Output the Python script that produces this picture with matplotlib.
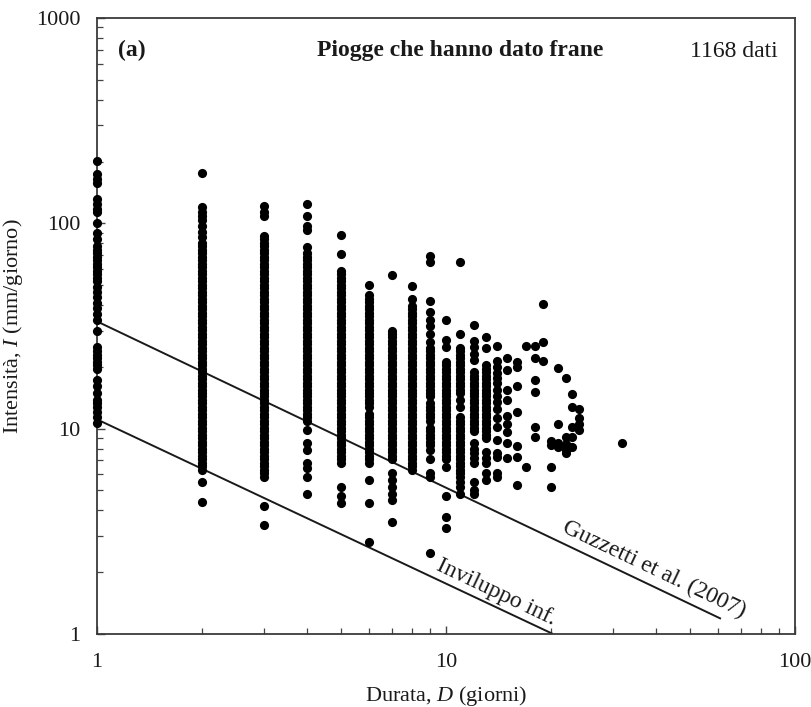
import matplotlib
matplotlib.use("Agg")
import matplotlib.pyplot as plt
from matplotlib.ticker import FixedLocator, FixedFormatter, LogLocator, NullFormatter

plt.rcParams["font.family"] = ["Liberation Serif", "DejaVu Serif"]
plt.rcParams["mathtext.fontset"] = "custom"
plt.rcParams["mathtext.rm"] = "Liberation Serif"
plt.rcParams["mathtext.it"] = "Liberation Serif:italic"

# Rainfall events that triggered landslides: duration (days) -> intensities (mm/day)
durations = [1, 2, 3, 4, 5, 6, 7, 8, 9, 10, 11, 12, 13, 14, 15, 16, 17, 18,
             19, 20, 21, 22, 23, 24, 32]

i_d1 = [201, 173, 165, 158, 131, 124, 117, 113, 100, 90, 84, 77.2, 74.3, 71.4,
        68.7, 66, 63.5, 61, 58.7, 56.5, 54.3, 52.2, 49, 46.4, 44, 41, 38.5, 36,
        34, 30, 25, 23.8, 22.9, 22, 21.2, 20.4, 19.6, 17.3, 16.2, 15, 13.8, 13.3,
        12.8, 12.1, 11.4, 10.7]
i_d2 = [175, 120, 114, 109, 104, 97, 91, 86, 80.3, 77.2, 74.3, 71.4, 68.7, 66,
        63.5, 61, 58.7, 56.5, 54.3, 52.2, 50.2, 48.3, 46.4, 44.6, 42.9, 41.3,
        39.7, 38.2, 36.7, 35.3, 33.9, 32.6, 31.4, 30.2, 29, 27.9, 26.8, 25.8,
        24.8, 23.8, 22.9, 22, 21.2, 20.4, 19.6, 18.8, 18.1, 17.4, 16.75, 16.1,
        15.5, 14.9, 14.35, 13.8, 13.3, 12.8, 12.3, 11.8, 11.35, 10.9, 10.5, 10.1,
        9.7, 9.35, 9.0, 8.65, 8.3, 8.0, 7.7, 7.4, 7.1, 6.8, 6.55, 6.3, 5.5, 4.4]
i_d3 = [121, 114, 108, 86.9, 83.5, 80.3, 77.2, 74.3, 71.4, 68.7, 66, 63.5, 61,
        58.7, 56.5, 54.3, 52.2, 50.2, 48.3, 46.4, 44.6, 42.9, 41.3, 39.7, 38.2,
        36.7, 35.3, 33.9, 32.6, 31.4, 30.2, 29, 27.9, 26.8, 25.8, 24.8, 23.8,
        22.9, 22, 21.2, 20.4, 19.6, 18.8, 18.1, 17.4, 16.75, 16.1, 15.5, 14.9,
        14.35, 13.8, 13.3, 12.8, 12.3, 11.8, 11.35, 10.9, 10.5, 10.1, 9.7, 9.35,
        9.0, 8.65, 8.3, 8.0, 7.7, 7.4, 7.1, 6.8, 6.55, 6.3, 6.05, 5.8, 4.2, 3.4]
i_d4 = [124, 109, 97, 93, 77, 71.4, 68.7, 66, 63.5, 61, 58.7, 56.5, 54.3, 52.2,
        50.2, 48.3, 46.4, 44.6, 42.9, 41.3, 39.7, 38.2, 36.7, 35.3, 33.9, 32.6,
        31.4, 30.2, 29, 27.9, 26.8, 25.8, 24.8, 23.8, 22.9, 22, 21.2, 20.4, 19.6,
        18.8, 18.1, 17.4, 16.75, 16.1, 15.5, 14.9, 14.35, 13.8, 13.3, 12.8, 12.3,
        11.8, 11.35, 10.9, 9.9, 8.5, 7.9, 6.8, 6.4, 5.8, 4.8]
i_d5 = [88, 70.6, 58.7, 56.5, 54.3, 52.2, 50.2, 48.3, 46.4, 44.6, 42.9, 41.3,
        39.7, 38.2, 36.7, 35.3, 33.9, 32.6, 31.4, 30.2, 29, 27.9, 26.8, 25.8,
        24.8, 23.8, 22.9, 22, 21.2, 20.4, 19.6, 18.8, 18.1, 17.4, 16.75, 16.1,
        15.5, 14.9, 14.35, 13.8, 13.3, 12.8, 12.3, 11.8, 11.35, 10.9, 10.5, 10.1,
        9.7, 9.35, 9.0, 8.65, 8.3, 8.0, 7.7, 7.4, 7.1, 6.8, 5.2, 4.7, 4.35]
i_d6 = [50, 44.6, 42.9, 41.3, 39.7, 38.2, 36.7, 35.3, 33.9, 32.6, 31.4, 30.2, 29,
        27.9, 26.8, 25.8, 24.8, 23.8, 22.9, 22, 21.2, 20.4, 19.6, 18.8, 18.1,
        17.4, 16.75, 16.1, 15.5, 14.9, 14.35, 13.8, 13.3, 12.8, 11.8, 11.35,
        10.9, 10.5, 10.1, 9.7, 9.35, 9.0, 8.65, 8.3, 8.0, 7.7, 7.4, 7.1, 6.8,
        5.6, 4.35, 2.8]
i_d7 = [56, 29.8, 29, 27.9, 26.8, 25.8, 24.8, 23.8, 22.9, 22, 21.2, 20.4, 19.6,
        18.8, 18.1, 17.4, 16.75, 16.1, 15.5, 14.9, 14.35, 13.8, 13.3, 12.8, 12.3,
        11.8, 11.35, 10.9, 10.5, 10.1, 9.7, 9.35, 9.0, 8.65, 8.3, 8.0, 7.7, 7.4,
        7.1, 6.1, 5.6, 5.2, 4.8, 4.5, 3.5]
i_d8 = [49.4, 42.6, 39.7, 38.2, 36.7, 35.3, 33.9, 32.6, 31.4, 30.2, 29, 27.9,
        26.8, 25.8, 24.8, 23.8, 22.9, 22, 21.2, 20.4, 19.6, 18.8, 18.1, 17.4,
        16.75, 16.1, 15.5, 14.9, 14.35, 13.8, 13.3, 12.8, 12.3, 11.8, 11.35,
        10.9, 10.5, 10.1, 9.7, 9.35, 9.0, 8.65, 8.3, 8.0, 7.7, 7.4, 7.1, 6.8,
        6.55, 6.3]
i_d9 = [69, 65, 41.7, 37, 34, 31.5, 28.8, 26.3, 24.8, 23.8, 22.9, 22, 21.2, 20.4,
        19.6, 18.8, 18.1, 17.4, 16.75, 16.1, 15.5, 14.9, 14.35, 13.3, 12.8, 12.3,
        11.8, 11.35, 10.9, 10.1, 9.7, 9.35, 9.0, 8.65, 8.3, 7.9, 7.1, 6.1, 5.8,
        2.48]
i_d10 = [34, 27, 25, 21.2, 20.4, 19.6, 18.8, 18.1, 17.4, 16.75, 16.1, 15.5, 14.9,
         14.35, 13.8, 13.3, 12.8, 12.3, 11.8, 11.35, 10.9, 10.5, 10.1, 9.7, 9.35,
         9.0, 8.65, 8.3, 8.0, 7.7, 7.4, 7.1, 6.5, 4.7, 3.7, 3.3]
i_d11 = [64.6, 28.8, 24.8, 23.8, 22.9, 22, 21.2, 20.4, 19.6, 18.8, 18.1, 17.4,
         16.75, 16.1, 15.5, 14.9, 13.8, 12.8, 11.35, 10.9, 10.5, 10.1, 9.7, 9.35,
         9.0, 8.65, 8.3, 8.0, 7.7, 7.4, 7.1, 6.8, 6.55, 6.3, 6.05, 5.8, 5.5, 5.2,
         4.8]
i_d12 = [32, 26.6, 25, 23.2, 21.7, 18.8, 18.1, 17.4, 16.75, 16.1, 15.5, 14.9,
         14.35, 13.8, 13.3, 12.8, 12.3, 11.8, 11.35, 10.9, 10.5, 10.1, 9.7, 8.5,
         8.0, 7.6, 7.2, 6.8, 5.5, 5.0, 4.8]
i_d13 = [27.8, 24.8, 20.4, 19.6, 18.8, 18.1, 17.4, 16.75, 16.1, 15.5, 14.9,
         14.35, 13.8, 13.3, 12.8, 12.3, 11.8, 11.35, 10.9, 10.5, 10.1, 9.7, 9.35,
         9.0, 7.7, 7.2, 6.8, 6.1, 5.6]
i_d14 = [25.2, 21.3, 19.9, 18.7, 17.7, 16.6, 15.5, 14.5, 13.5, 12.4, 11.3, 10.2,
         8.8, 7.6, 7.3, 6.1, 5.8]
i_d15 = [22.2, 19.4, 15.5, 13.8, 11.5, 10.5, 9.6, 8.5, 7.2]
i_d16 = [21.2, 20, 16.1, 12, 8.2, 7.3, 5.3]
i_d17 = [25.2, 6.5]
i_d18 = [25.2, 22.2, 17.3, 15.1, 10.2, 9.1]
i_d19 = [40.3, 26.3, 21.3]
i_d20 = [8.7, 8.3, 6.5, 5.2]
i_d21 = [19.8, 10.5, 8.5, 8.1]
i_d22 = [17.7, 9.1, 8.4, 7.9, 7.6]
i_d23 = [14.7, 12.8, 10.2, 9.1, 8.1]
i_d24 = [12.4, 11.3, 10.5, 9.9]
i_d32 = [8.5]

intensities = [i_d1, i_d2, i_d3, i_d4, i_d5, i_d6, i_d7, i_d8, i_d9, i_d10,
               i_d11, i_d12, i_d13, i_d14, i_d15, i_d16, i_d17, i_d18, i_d19,
               i_d20, i_d21, i_d22, i_d23, i_d24, i_d32]

# Power-law thresholds I = a * D^b
guzzetti_a, guzzetti_b, guzzetti_dmax = 33.3, -0.81, 61.0
envelope_a, envelope_b, envelope_dmax = 11.1, -0.80, 20.1

x_ticks = [1, 10, 100]
x_tick_labels = ["1", "10", "100"]
y_ticks = [1, 10, 100, 1000]
y_tick_labels = ["1", "10", "100", "1000"]

FS = 16
ink = "#1a1a1a"

fig = plt.figure(figsize=(8.12, 7.07), dpi=100)
ax = fig.add_axes([97 / 812, (707 - 634) / 707, 698 / 812, 616 / 707])
ax.set_xscale("log")
ax.set_yscale("log")
ax.set_xlim(1, 100)
ax.set_ylim(1, 1000)

for d, vals in zip(durations, intensities):
    ax.plot([d] * len(vals), vals, linestyle="none", marker="o",
            markersize=6.6, color="black", markeredgewidth=0, zorder=3,
            clip_on=False)

def threshold(a, b, dmax):
    ds = [1.0, dmax]
    return ds, [a * d ** b for d in ds]

gx, gy = threshold(guzzetti_a, guzzetti_b, guzzetti_dmax)
ex, ey = threshold(envelope_a, envelope_b, envelope_dmax)
ax.plot(gx, gy, color=ink, lw=1.4, zorder=2)
ax.plot(ex, ey, color=ink, lw=1.4, zorder=2)

ax.text(39.5, 2.07, "Guzzetti et al. (2007)", rotation=-25.4, fontsize=17,
        ha="center", va="center", rotation_mode="anchor", color=ink)
ax.text(13.9, 1.6, "Inviluppo inf.", rotation=-25.4, fontsize=17,
        ha="center", va="center", rotation_mode="anchor", color=ink)

ax.text(0.03, 0.948, "(a)", transform=ax.transAxes, fontsize=17,
        fontweight="bold", ha="left", va="center", color=ink)
ax.text(0.52, 0.948, "Piogge che hanno dato frane", transform=ax.transAxes,
        fontsize=17, fontweight="bold", ha="center", va="center", color=ink)
ax.text(0.976, 0.945, "1168 dati", transform=ax.transAxes, fontsize=17,
        ha="right", va="center", color=ink)

ax.xaxis.set_major_locator(FixedLocator(x_ticks))
ax.xaxis.set_major_formatter(FixedFormatter(x_tick_labels))
ax.yaxis.set_major_locator(FixedLocator(y_ticks))
ax.yaxis.set_major_formatter(FixedFormatter(y_tick_labels))
ax.xaxis.set_minor_locator(LogLocator(base=10, subs=range(2, 10)))
ax.yaxis.set_minor_locator(LogLocator(base=10, subs=range(2, 10)))
ax.xaxis.set_minor_formatter(NullFormatter())
ax.yaxis.set_minor_formatter(NullFormatter())

ax.tick_params(which="both", direction="in", colors="#444444",
               labelcolor=ink, labelsize=FS, top=False, right=False)
ax.tick_params(which="major", length=6, width=1.0)
ax.tick_params(which="minor", length=4.5, width=0.9)
ax.tick_params(axis="x", which="major", pad=14)
ax.tick_params(axis="y", which="major", pad=12)

for s in ax.spines.values():
    s.set_color("#3a3a3a")
    s.set_linewidth(1.3)

ax.set_xlabel("Durata, $D$ (giorni)", fontsize=FS, color=ink, labelpad=8)
ax.set_ylabel("Intensità, $I$ (mm/giorno)", fontsize=FS, color=ink, labelpad=8)

fig.savefig("out.png", dpi=100, facecolor="white")
